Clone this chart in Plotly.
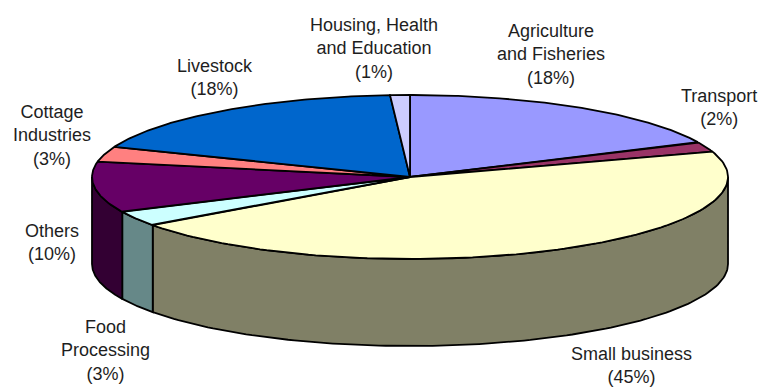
import numpy as np
import plotly.graph_objects as go

# Share of loans by sector (percent), clockwise from 12 o'clock
sectors = ["Agriculture and Fisheries", "Transport", "Small business", "Food Processing",
           "Others", "Cottage Industries", "Livestock", "Housing, Health and Education"]
shares = [18, 2, 45, 3, 10, 3, 18, 1]
label_text = ["Agriculture<br>and Fisheries<br>(18%)", "Transport<br>(2%)",
              "Small business<br>(45%)", "Food<br>Processing<br>(3%)", "Others<br>(10%)",
              "Cottage<br>Industries<br>(3%)", "Livestock<br>(18%)",
              "Housing, Health<br>and Education<br>(1%)"]

# Styling
top_colors = ["#9999FF", "#993366", "#FFFFCC", "#CCFFFF", "#660066", "#FF8080", "#0066CC", "#CCCCFF"]
side_colors = ["#4C4C80", "#4C1933", "#808066", "#668888", "#330033", "#804040", "#003366", "#666680"]
label_pos = [(551, 54), (719, 107), (631, 365), (105, 350), (52, 242), (52, 135), (215, 77), (374, 48)]

# Pie geometry in pixel space
CX, CY, RX, RY, DEPTH = 410, 177, 318, 82, 87
W, H = 760, 389


def arc(t1, t2, dy=0.0, n=120):
    t = np.radians(np.linspace(t1, t2, n))
    return CX + RX * np.cos(t), CY - RY * np.sin(t) + dy


total = float(sum(shares))
bounds = 90 - 360 * np.concatenate([[0], np.cumsum(shares)]) / total

fig = go.Figure()

# Side walls: only the front half (angles between -180 and 0) is visible
for i, name in enumerate(sectors):
    start, end = bounds[i], bounds[i + 1]
    hi, lo = min(start, 0), max(end, -180)
    if hi <= lo:
        continue
    xt, yt = arc(hi, lo)
    xb, yb = arc(lo, hi, DEPTH)
    xs = np.concatenate([xt, xb, xt[:1]])
    ys = np.concatenate([yt, yb, yt[:1]])
    fig.add_trace(go.Scatter(x=xs, y=ys, mode="lines", fill="toself",
                             fillcolor=side_colors[i],
                             line=dict(color="black", width=1.8),
                             hoverinfo="skip", showlegend=False))

# Top faces of the slices
for i, name in enumerate(sectors):
    xa, ya = arc(bounds[i], bounds[i + 1])
    xs = np.concatenate([[CX], xa, [CX]])
    ys = np.concatenate([[CY], ya, [CY]])
    fig.add_trace(go.Scatter(x=xs, y=ys, mode="lines", fill="toself",
                             fillcolor=top_colors[i],
                             line=dict(color="black", width=1.8),
                             name=name, hoverinfo="name", showlegend=False))

for txt, (lx, ly) in zip(label_text, label_pos):
    fig.add_annotation(x=lx, y=ly, xref="x", yref="y", text=txt, showarrow=False,
                       align="center", xanchor="center", yanchor="middle",
                       font=dict(family="Liberation Sans, Arial, sans-serif", size=18,
                                 color="#1e1e1e"))

fig.update_xaxes(range=[0, W], visible=False, fixedrange=True)
fig.update_yaxes(range=[H, 0], visible=False, fixedrange=True)
fig.update_layout(width=W, height=H, margin=dict(l=0, r=0, t=0, b=0),
                  paper_bgcolor="white", plot_bgcolor="white")

fig.write_html("out.html")
